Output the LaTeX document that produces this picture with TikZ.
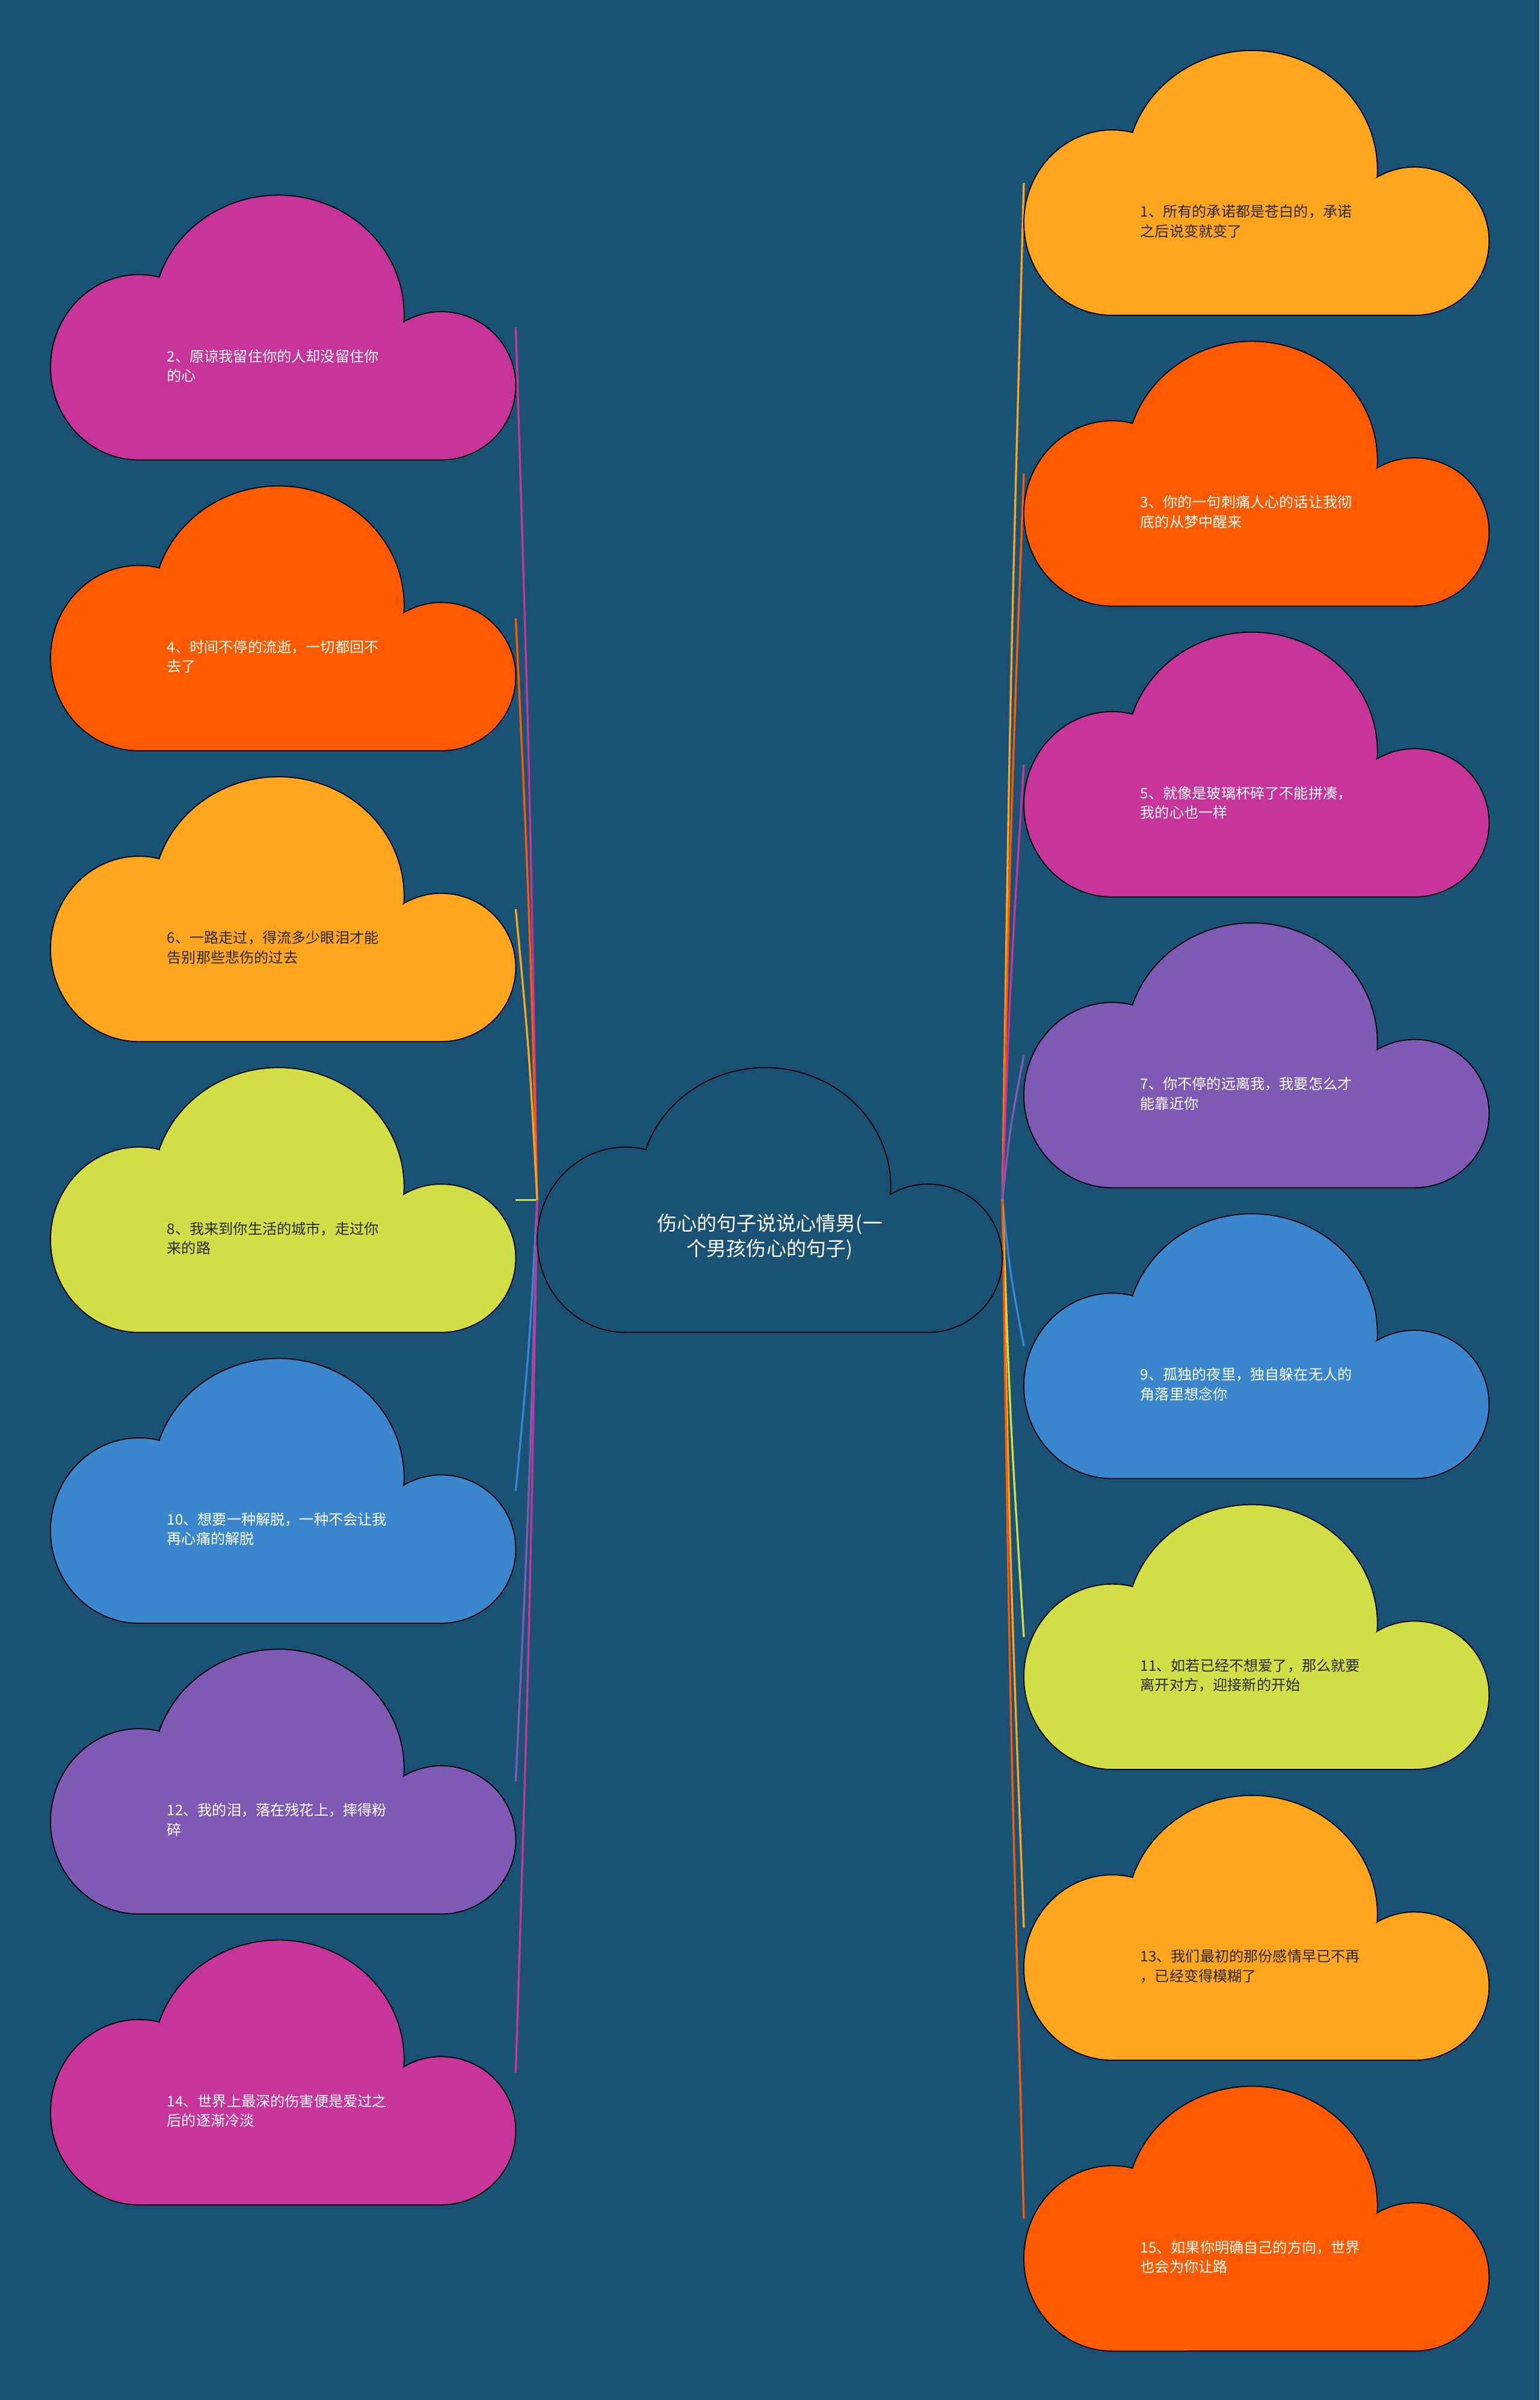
\documentclass[tikz,border=0pt]{standalone}
\usepackage{fontspec}
\newfontfamily\cjk{Noto Sans CJK SC}
\usetikzlibrary{calc}
\definecolor{bg}{HTML}{1A5276}
\definecolor{cmag}{HTML}{C8359A}
\definecolor{cora}{HTML}{FF5A00}
\definecolor{camb}{HTML}{FFA51E}
\definecolor{clim}{HTML}{D2DE45}
\definecolor{cblu}{HTML}{3A86CF}
\definecolor{cpur}{HTML}{7E5AB4}
\definecolor{dtxt}{HTML}{2A2A2A}
\newcommand\cloudshape[2]{%
  \path[cloudline,fill=#2]
    ($(#1.south west)+(57.76pt,0pt)$)
    arc[start angle=270,end angle=76.6,x radius=57.76pt,y radius=60.55pt]
    -- ($(#1.south west)+(71.12pt,119.85pt)$)
    arc[start angle=161.5,end angle=-3.4,x radius=82.08pt,y radius=77.85pt]
    -- ($(#1.south west)+(230.76pt,90.22pt)$)
    arc[start angle=120.4,end angle=-90,x radius=48.64pt,y radius=48.44pt]
    -- cycle;}
\begin{document}
\begin{tikzpicture}[x=1pt,y=-1pt,
  box/.style={rectangle,minimum width=304pt,minimum height=173pt,inner sep=0pt,outer sep=0pt},
  cloudline/.style={draw=black,line width=0.7pt},
  conn/.style={line width=1.3pt},
  leaftext/.style={anchor=west,align=left,inner sep=0pt,font={\cjk\fontsize{9.5pt}{12.8pt}\selectfont}},
  roottext/.style={align=center,inner sep=0pt,text=white,font={\cjk\fontsize{13pt}{16.5pt}\selectfont}}]
\fill[bg] (0,0) rectangle (1006,1568);
\useasboundingbox (0,0) rectangle (1006,1568);
% boxes
\node[box] (c0) at (503,784) {};
\node[box] (c1) at (821,119.5) {};
\node[box] (c3) at (821,309.5) {};
\node[box] (c5) at (821,499.5) {};
\node[box] (c7) at (821,689.5) {};
\node[box] (c9) at (821,879.5) {};
\node[box] (c11) at (821,1069.5) {};
\node[box] (c13) at (821,1259.5) {};
\node[box] (c15) at (821,1449.5) {};
\node[box] (c2) at (185,214) {};
\node[box] (c4) at (185,404) {};
\node[box] (c6) at (185,594) {};
\node[box] (c8) at (185,784) {};
\node[box] (c10) at (185,974) {};
\node[box] (c12) at (185,1164) {};
\node[box] (c14) at (185,1354) {};
% connectors
\foreach \n/\c in {c2/cmag,c4/cora,c6/camb,c8/clim,c10/cblu,c12/cpur,c14/cmag}
  \draw[conn,draw=\c] (c0.west) .. controls ($(c0.west)!0.5!(\n.east)+(2,0)$) .. (\n.east);
\foreach \n/\c in {c1/camb,c3/cora,c5/cmag,c7/cpur,c9/cblu,c11/clim,c13/camb,c15/cora}
  \draw[conn,draw=\c] (c0.east) .. controls ($(c0.east)!0.5!(\n.west)+(-2,0)$) .. (\n.west);
% clouds
\cloudshape{c0}{bg}
\cloudshape{c1}{camb}
\cloudshape{c3}{cora}
\cloudshape{c5}{cmag}
\cloudshape{c7}{cpur}
\cloudshape{c9}{cblu}
\cloudshape{c11}{clim}
\cloudshape{c13}{camb}
\cloudshape{c15}{cora}
\cloudshape{c2}{cmag}
\cloudshape{c4}{cora}
\cloudshape{c6}{camb}
\cloudshape{c8}{clim}
\cloudshape{c10}{cblu}
\cloudshape{c12}{cpur}
\cloudshape{c14}{cmag}
% texts
\node[roottext] (t0) at ($(c0.center)+(0,24)$) {伤心的句子说说心情男(一\\个男孩伤心的句子)};
\node[leaftext,text=dtxt] (t1) at ($(c1.west)+(76,25)$) {1、所有的承诺都是苍白的，承诺\\之后说变就变了};
\node[leaftext,text=white] (t3) at ($(c3.west)+(76,25)$) {3、你的一句刺痛人心的话让我彻\\底的从梦中醒来};
\node[leaftext,text=white] (t5) at ($(c5.west)+(76,25)$) {5、就像是玻璃杯碎了不能拼凑，\\我的心也一样};
\node[leaftext,text=white] (t7) at ($(c7.west)+(76,25)$) {7、你不停的远离我，我要怎么才\\能靠近你};
\node[leaftext,text=white] (t9) at ($(c9.west)+(76,25)$) {9、孤独的夜里，独自躲在无人的\\角落里想念你};
\node[leaftext,text=dtxt] (t11) at ($(c11.west)+(76,25)$) {11、如若已经不想爱了，那么就要\\离开对方，迎接新的开始};
\node[leaftext,text=dtxt] (t13) at ($(c13.west)+(76,25)$) {13、我们最初的那份感情早已不再\\，已经变得模糊了};
\node[leaftext,text=white] (t15) at ($(c15.west)+(76,25)$) {15、如果你明确自己的方向，世界\\也会为你让路};
\node[leaftext,text=white] (t2) at ($(c2.west)+(76,25)$) {2、原谅我留住你的人却没留住你\\的心};
\node[leaftext,text=white] (t4) at ($(c4.west)+(76,25)$) {4、时间不停的流逝，一切都回不\\去了};
\node[leaftext,text=dtxt] (t6) at ($(c6.west)+(76,25)$) {6、一路走过，得流多少眼泪才能\\告别那些悲伤的过去};
\node[leaftext,text=dtxt] (t8) at ($(c8.west)+(76,25)$) {8、我来到你生活的城市，走过你\\来的路};
\node[leaftext,text=white] (t10) at ($(c10.west)+(76,25)$) {10、想要一种解脱，一种不会让我\\再心痛的解脱};
\node[leaftext,text=white] (t12) at ($(c12.west)+(76,25)$) {12、我的泪，落在残花上，摔得粉\\碎};
\node[leaftext,text=white] (t14) at ($(c14.west)+(76,25)$) {14、世界上最深的伤害便是爱过之\\后的逐渐冷淡};
\end{tikzpicture}
\end{document}
